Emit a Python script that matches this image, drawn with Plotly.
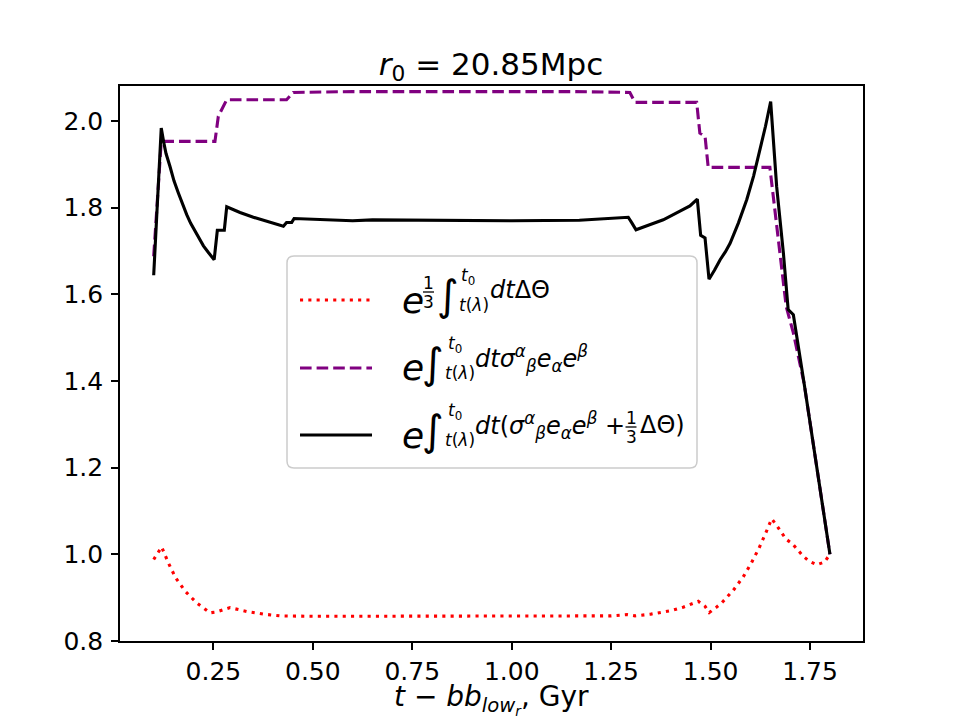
import plotly.graph_objects as go

# ---------------- data ----------------
x_theta = [0.1, 0.12, 0.137, 0.155, 0.179, 0.208, 0.2416, 0.258, 0.292, 0.334, 0.376, 0.4175,
           0.5, 0.7, 0.9, 1.1, 1.25, 1.29, 1.31, 1.35, 1.40, 1.431, 1.4525, 1.469, 1.486, 1.4966,
           1.5135, 1.529, 1.557, 1.582, 1.603, 1.622, 1.639, 1.6535, 1.666, 1.677, 1.6895, 1.705,
           1.719, 1.733, 1.748, 1.767, 1.786, 1.8]
y_theta = [0.988, 1.017, 0.980, 0.946, 0.915, 0.888, 0.865, 0.867, 0.877, 0.868, 0.862, 0.858,
           0.857, 0.857, 0.857, 0.857, 0.858, 0.861, 0.858, 0.862, 0.870, 0.878, 0.886, 0.8915, 0.880, 0.8655,
           0.877, 0.889, 0.917, 0.948, 0.981, 1.015, 1.050, 1.082, 1.067, 1.0515, 1.035, 1.025,
           1.011, 0.9955, 0.984, 0.976, 0.982, 1.0]

x_shear = [0.1, 0.119, 0.254, 0.2625, 0.2835, 0.434, 0.451, 0.6, 1.15, 1.297, 1.310, 1.465,
           1.473, 1.486, 1.494, 1.649, 1.690, 1.708, 1.735, 1.8]
y_shear = [1.688, 1.953, 1.953, 2.011, 2.049, 2.049, 2.066, 2.068, 2.068, 2.066, 2.043, 2.043,
           1.972, 1.965, 1.893, 1.893, 1.572, 1.511, 1.395, 1.0]

x_total = [0.1, 0.119, 0.125, 0.131, 0.141, 0.151, 0.162, 0.172, 0.183, 0.193, 0.204, 0.214,
           0.225, 0.238, 0.252, 0.260, 0.2775, 0.2836, 0.30, 0.317, 0.3505, 0.39, 0.426, 0.434,
           0.447, 0.453, 0.55, 0.6, 0.65, 0.8, 1.0, 1.17, 1.293, 1.302, 1.3125, 1.345, 1.381,
           1.423, 1.448, 1.4666, 1.475, 1.486, 1.496, 1.51, 1.524, 1.537, 1.549, 1.57, 1.591,
           1.608, 1.624, 1.638, 1.651, 1.666, 1.683, 1.695, 1.708, 1.735, 1.8]
y_total = [1.644, 1.984, 1.952, 1.925, 1.895, 1.862, 1.834, 1.808, 1.784, 1.764, 1.745, 1.728,
           1.712, 1.696, 1.680, 1.748, 1.748, 1.802, 1.795, 1.789, 1.778, 1.767, 1.757, 1.766,
           1.766, 1.775, 1.772, 1.770, 1.772, 1.771, 1.770, 1.771, 1.778, 1.765, 1.749, 1.760, 1.772,
           1.792, 1.804, 1.820, 1.736, 1.730, 1.635, 1.656, 1.680, 1.698, 1.718, 1.765, 1.819,
           1.873, 1.934, 1.988, 2.045, 1.849, 1.695, 1.565, 1.553, 1.395, 1.0]

x_tickvals = [0.25, 0.5, 0.75, 1.0, 1.25, 1.5, 1.75]
x_ticktext = ["0.25", "0.50", "0.75", "1.00", "1.25", "1.50", "1.75"]
y_tickvals = [0.8, 1.0, 1.2, 1.4, 1.6, 1.8, 2.0]
y_ticktext = ["0.8", "1.0", "1.2", "1.4", "1.6", "1.8", "2.0"]

title_text = "<i>r</i><sub>0</sub> = 20.85Mpc"
xlabel_text = "<i>t</i> − <i>bb</i><sub><i>low<sub>r</sub></i></sub>, Gyr"

# ---------------- layout geometry ----------------
W, H = 960, 720
ML, MR, MT, MB = 120, 97, 86, 79
AX_W = W - ML - MR
AX_H = H - MT - MB
AX_BOTTOM = H - MB

def PX(px):
    return (px - ML) / AX_W

def PY(py):
    return (AX_BOTTOM - py) / AX_H

FONT = "DejaVu Sans"
RED, PURPLE, BLACK = "#ff0000", "#800080", "#000000"
LW = 3.1
DASH = "11.6px,5px"
DOT = "3.1px,5.2px"

fig = go.Figure()
fig.add_trace(go.Scatter(x=x_theta, y=y_theta, mode="lines",
                         line=dict(color=RED, width=LW, dash=DOT), showlegend=False))
fig.add_trace(go.Scatter(x=x_shear, y=y_shear, mode="lines",
                         line=dict(color=PURPLE, width=LW, dash=DASH), showlegend=False))
fig.add_trace(go.Scatter(x=x_total, y=y_total, mode="lines",
                         line=dict(color=BLACK, width=LW), showlegend=False))

axis_common = dict(showline=True, mirror=True, linecolor="black", linewidth=1.6,
                   ticks="outside", ticklen=7, tickwidth=1.6, tickcolor="black",
                   showgrid=False, zeroline=False, tickfont=dict(family=FONT, size=25, color="black"))

fig.update_xaxes(range=[0.0153, 1.8831], tickvals=x_tickvals, ticktext=x_ticktext,
                 ticklabelstandoff=0, **axis_common)
fig.update_yaxes(range=[0.8, 0.8 + AX_H / 433.3], tickvals=y_tickvals, ticktext=y_ticktext,
                 ticklabelstandoff=3, **axis_common)

shapes = []
annotations = []

# legend frame (rounded)
bx0, by0, bx1, by1, r = 287, 256, 697, 468, 7
path = (f"M {PX(bx0 + r)},{PY(by0)} L {PX(bx1 - r)},{PY(by0)} "
        f"Q {PX(bx1)},{PY(by0)} {PX(bx1)},{PY(by0 + r)} L {PX(bx1)},{PY(by1 - r)} "
        f"Q {PX(bx1)},{PY(by1)} {PX(bx1 - r)},{PY(by1)} L {PX(bx0 + r)},{PY(by1)} "
        f"Q {PX(bx0)},{PY(by1)} {PX(bx0)},{PY(by1 - r)} L {PX(bx0)},{PY(by0 + r)} "
        f"Q {PX(bx0)},{PY(by0)} {PX(bx0 + r)},{PY(by0)} Z")
shapes.append(dict(type="path", path=path, xref="paper", yref="paper", layer="above",
                   fillcolor="rgba(255,255,255,0.8)", line=dict(color="#cccccc", width=1.5)))

rows_y = [300, 368, 435]
row_styles = [(RED, DOT), (PURPLE, DASH), (BLACK, "solid")]
for L, (c, d) in zip(rows_y, row_styles):
    shapes.append(dict(type="line", xref="paper", yref="paper", layer="above",
                       x0=PX(300), x1=PX(372), y0=PY(L), y1=PY(L),
                       line=dict(color=c, width=LW, dash=d)))

def ann(text, xpx, ypx, size, xanchor="left"):
    annotations.append(dict(text=text, xref="paper", yref="paper", x=PX(xpx), y=PY(ypx),
                            xanchor=xanchor, yanchor="middle", showarrow=False,
                            font=dict(family=FONT, size=size, color="black")))

def frac(xc, L):
    ann("1", xc, L - 17, 17, "center")
    ann("3", xc, L + 2, 17, "center")
    shapes.append(dict(type="line", xref="paper", yref="paper", layer="above",
                       x0=PX(xc - 5.5), x1=PX(xc + 5.5), y0=PY(L - 8), y1=PY(L - 8),
                       line=dict(color="black", width=1.3)))

INT_SIZE = 42

# row 1
L = rows_y[0]
ann("<i>e</i>", 400, L, 36)
frac(428.5, L)
ann("∫", 435, L - 5, INT_SIZE)
ann("<i>t</i><sub>0</sub>", 459, L - 24, 17)
ann("<i>t</i>(<i>λ</i>)", 457, L + 5, 17)
ann("<i>dt</i>ΔΘ", 488, L - 10, 24)

# row 2
L = rows_y[1]
ann("<i>e</i>", 400, L, 36)
ann("∫", 420, L - 5, INT_SIZE)
ann("<i>t</i><sub>0</sub>", 446, L - 24, 17)
ann("<i>t</i>(<i>λ</i>)", 443, L + 5, 17)
ann("<i>dtσ</i><sup><i>α</i></sup><sub><i>β</i></sub><i>e</i><sub><i>α</i></sub><i>e</i><sup><i>β</i></sup>",
    473, L - 10, 24)

# row 3
L = rows_y[2]
ann("<i>e</i>", 400, L, 36)
ann("∫", 420, L - 5, INT_SIZE)
ann("<i>t</i><sub>0</sub>", 446, L - 24, 17)
ann("<i>t</i>(<i>λ</i>)", 443, L + 5, 17)
ann("<i>dt</i>(<i>σ</i><sup><i>α</i></sup><sub><i>β</i></sub><i>e</i><sub><i>α</i></sub><i>e</i><sup><i>β</i></sup> +",
    473, L - 10, 24)
frac(631, L)
ann("ΔΘ)", 638, L - 10, 24)

# x-axis label
annotations.append(dict(text=xlabel_text, xref="paper", yref="paper", x=0.5, y=PY(699),
                        xanchor="center", yanchor="middle", showarrow=False,
                        font=dict(family=FONT, size=28, color="black")))

fig.update_layout(
    width=W, height=H,
    margin=dict(l=ML, r=MR, t=MT, b=MB, pad=0),
    paper_bgcolor="white", plot_bgcolor="white",
    font=dict(family=FONT, size=25, color="black"),
    title=dict(text=title_text, x=491 / W, xref="container",
               y=1 - 64 / H, yref="container", xanchor="center", yanchor="middle",
               font=dict(family=FONT, size=31, color="black")),
    shapes=shapes, annotations=annotations, showlegend=False,
)

fig.write_html("out.html")
